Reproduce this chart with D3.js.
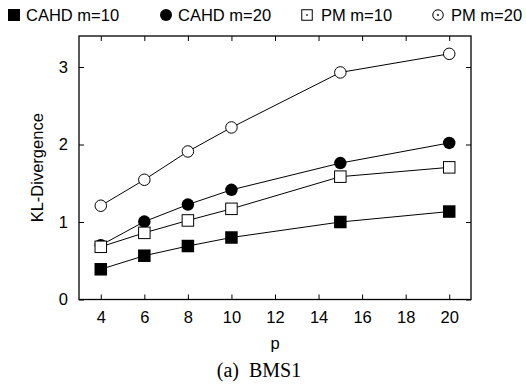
<!DOCTYPE html>
<html>
<head>
<meta charset="utf-8">
<script src="https://cdn.jsdelivr.net/npm/d3@7"></script>
<style>
  html, body { margin: 0; padding: 0; background: #fff; }
  svg { display: block; }
  text { font-family: "Liberation Sans", Arial, Helvetica, sans-serif; fill: #000; }
</style>
</head>
<body>
<svg id="chart" width="526" height="385"></svg>
<script>
const pValues = [4, 6, 8, 10, 15, 20];
const cahdM10 = [0.39, 0.565, 0.69, 0.80, 1.00, 1.135];
const cahdM20 = [0.70, 1.005, 1.225, 1.415, 1.76, 2.02];
const pmM10   = [0.68, 0.86, 1.02, 1.17, 1.585, 1.705];
const pmM20   = [1.21, 1.545, 1.91, 2.22, 2.93, 3.17];
const seriesNames = ["CAHD m=10", "CAHD m=20", "PM m=10", "PM m=20"];
const seriesShapes = ["filledSquare", "filledCircle", "openSquare", "openCircle"];
const xTicks = [4, 6, 8, 10, 12, 14, 16, 18, 20];
const yTicks = [0, 1, 2, 3];
const xLabel = "p";
const yLabel = "KL-Divergence";
const caption = "(a)  BMS1";

const series = [cahdM10, cahdM20, pmM10, pmM20].map((vals, i) => ({
  name: seriesNames[i], shape: seriesShapes[i],
  points: vals.map((v, j) => ({ p: pValues[j], v }))
}));

const svg = d3.select("#chart");
const L = 79, R = 471, T = 36, B = 299.5;
const x = d3.scaleLinear().domain([3, 21]).range([L, R]);
const y = d3.scaleLinear().domain([0, 3.4]).range([B, T]);
const fs = "16.5px";

// axes with inward ticks
const gx = svg.append("g").attr("transform", `translate(0,${B})`)
  .call(d3.axisBottom(x).tickValues(xTicks).tickFormat(d3.format("d")).tickSizeInner(-5).tickSizeOuter(0).tickPadding(12));
const gxt = svg.append("g").attr("transform", `translate(0,${T})`)
  .call(d3.axisTop(x).tickValues(xTicks).tickSizeInner(-5).tickSizeOuter(0).tickFormat(""));
const gy = svg.append("g").attr("transform", `translate(${L},0)`)
  .call(d3.axisLeft(y).tickValues(yTicks).tickFormat(d3.format("d")).tickSizeInner(-5).tickSizeOuter(0).tickPadding(11));
const gyr = svg.append("g").attr("transform", `translate(${R},0)`)
  .call(d3.axisRight(y).tickValues(yTicks).tickSizeInner(-5).tickSizeOuter(0).tickFormat(""));
[gx, gxt, gy, gyr].forEach(g => {
  g.select(".domain").remove();
  g.selectAll("line").attr("stroke", "#000").attr("stroke-width", 1);
  g.selectAll("text").style("font-family", '"Liberation Sans", Arial, sans-serif').style("font-size", fs).attr("fill", "#000");
});
// x tick labels: baseline placement
gx.selectAll("text").attr("dy", null).attr("y", 23.5);

// frame
svg.append("rect").attr("x", L).attr("y", T).attr("width", R - L).attr("height", B - T)
  .attr("fill", "none").attr("stroke", "#000").attr("stroke-width", 1.3);

// lines
const line = d3.line().x(d => x(d.p)).y(d => y(d.v));
svg.append("g").selectAll("path").data(series).join("path")
  .attr("d", d => line(d.points)).attr("fill", "none").attr("stroke", "#000").attr("stroke-width", 1);

// markers
function drawMarker(g, shape, cx, cy, size, withDot) {
  const h = size / 2;
  if (shape === "filledSquare") {
    g.append("rect").attr("x", cx - h).attr("y", cy - h).attr("width", size).attr("height", size).attr("fill", "#000");
  } else if (shape === "filledCircle") {
    g.append("circle").attr("cx", cx).attr("cy", cy).attr("r", h).attr("fill", "#000");
  } else if (shape === "openSquare") {
    g.append("rect").attr("x", cx - h + 0.5).attr("y", cy - h + 0.5).attr("width", size - 1).attr("height", size - 1)
      .attr("fill", "#fff").attr("stroke", "#000").attr("stroke-width", 1);
    if (withDot) g.append("rect").attr("x", cx - 0.75).attr("y", cy - 0.75).attr("width", 1.5).attr("height", 1.5).attr("fill", "#000");
  } else {
    g.append("circle").attr("cx", cx).attr("cy", cy).attr("r", h - 0.5)
      .attr("fill", "#fff").attr("stroke", "#000").attr("stroke-width", 1);
    if (withDot) g.append("circle").attr("cx", cx).attr("cy", cy).attr("r", 0.9).attr("fill", "#000");
  }
}
const mg = svg.append("g");
series.forEach(s => s.points.forEach(d => drawMarker(mg, s.shape, x(d.p), y(d.v), 12.5, false)));

// legend
const legendMarkerX = [14, 166, 307, 438];
const legendTextX = [26, 178, 321, 451];
const lg = svg.append("g");
series.forEach((s, i) => {
  const small = s.shape.startsWith("open") ? 11.5 : 12;
  drawMarker(lg, s.shape, legendMarkerX[i], 15, small, true);
  lg.append("text").attr("x", legendTextX[i]).attr("y", 20.8).style("font-size", fs).text(s.name);
});

// axis labels
svg.append("text").attr("x", (L + R) / 2).attr("y", 349).attr("text-anchor", "middle").style("font-size", fs).text(xLabel);
svg.append("text").attr("transform", `translate(43,${(T + B) / 2}) rotate(-90)`).attr("text-anchor", "middle")
  .style("font-size", fs).text(yLabel);

// caption
svg.append("text").attr("x", 259).attr("y", 377).attr("text-anchor", "middle")
  .style("font-family", '"Liberation Serif", "Times New Roman", serif').style("font-size", "20px")
  .attr("xml:space", "preserve").style("white-space", "pre").text(caption);
</script>
</body>
</html>
